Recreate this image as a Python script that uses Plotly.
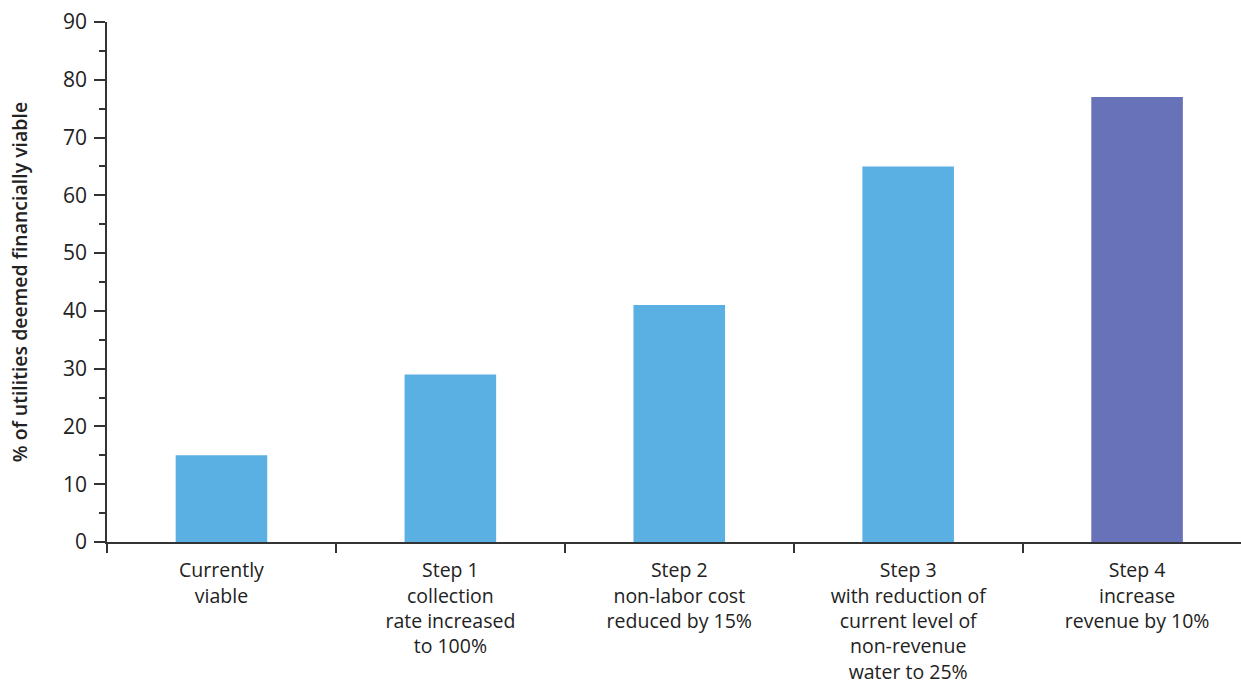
import plotly.graph_objects as go

categories = [
    "Currently<br>viable",
    "Step 1<br>collection<br>rate increased<br>to 100%",
    "Step 2<br>non-labor cost<br>reduced by 15%",
    "Step 3<br>with reduction of<br>current level of<br>non-revenue<br>water to 25%",
    "Step 4<br>increase<br>revenue by 10%",
]
values = [15, 29, 41, 65, 77]
colors = ["#5AAFE3", "#5AAFE3", "#5AAFE3", "#5AAFE3", "#6872B8"]

fig = go.Figure(go.Bar(x=categories, y=values, marker_color=colors, width=0.40,
                       marker_line_width=0))

fig.update_layout(
    width=1241, height=698,
    margin=dict(l=107, r=0, t=22, b=156),
    plot_bgcolor="white", paper_bgcolor="white",
    font=dict(family="Open Sans", color="#222222", size=19),
    showlegend=False,
)
fig.update_xaxes(
    range=[-0.5, 4.454],
    showline=True, linecolor="#333333", linewidth=1.5,
    ticks="outside", tickson="boundaries", ticklen=9, tickcolor="#333333", tickwidth=1.5,
    tickfont=dict(size=19.5, color="#222222"),
    ticklabelstandoff=10,
    showgrid=False, zeroline=False,
)
fig.update_yaxes(
    range=[0, 90], dtick=10,
    showline=True, linecolor="#333333", linewidth=1.5,
    ticks="outside", ticklen=11, tickcolor="#333333", tickwidth=1.5,
    minor=dict(dtick=5, ticks="outside", ticklen=6, tickcolor="#333333", tickwidth=1.5, showgrid=False),
    tickfont=dict(size=21, color="#222222"),
    ticklabelstandoff=3,
    showgrid=False, zeroline=False,
    title=dict(text="% of utilities deemed financially viable",
               font=dict(size=19.5, color="#222222", weight=600), standoff=30),
)

fig.write_html("out.html")
